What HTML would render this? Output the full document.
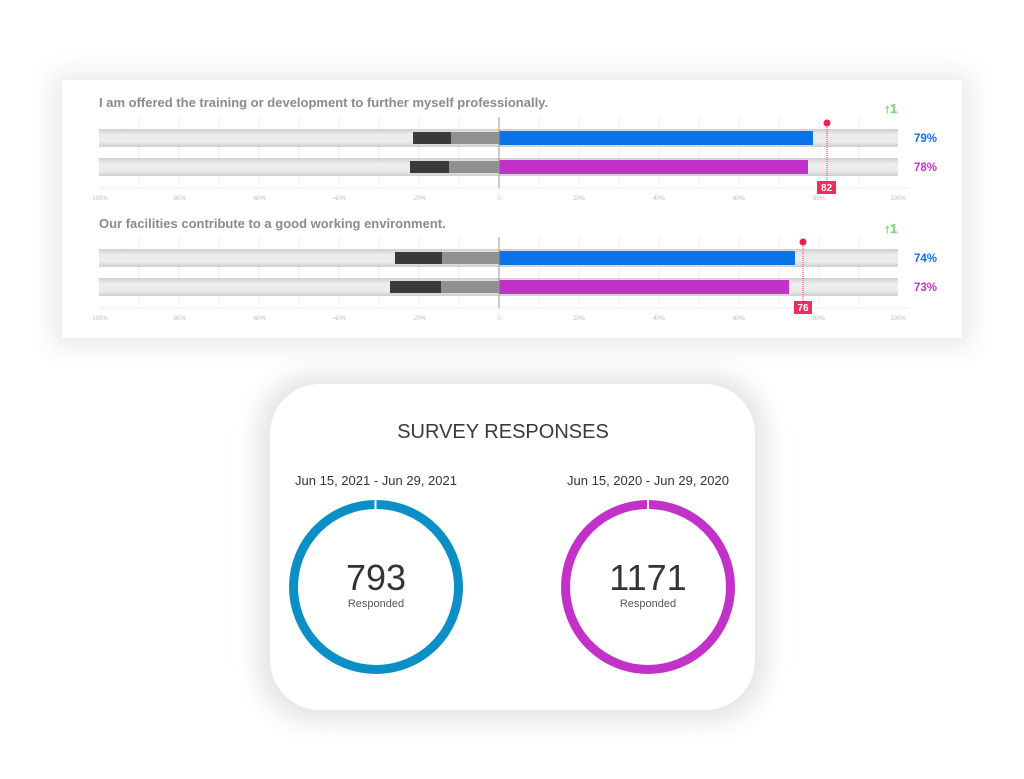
<!DOCTYPE html>
<html><head><meta charset="utf-8"><style>
html,body{margin:0;padding:0;background:#fff;}
svg{display:block;font-family:"Liberation Sans",sans-serif;}
</style></head><body>
<svg width="1024" height="779" viewBox="0 0 1024 779" xmlns="http://www.w3.org/2000/svg">
<defs>
<filter id="sh" x="-20%" y="-30%" width="140%" height="160%"><feGaussianBlur stdDeviation="12"/></filter>
<linearGradient id="tr" x1="0" y1="0" x2="0" y2="1">
<stop offset="0" stop-color="#cfcfcf"/><stop offset="0.3" stop-color="#ececec"/><stop offset="0.7" stop-color="#ececec"/><stop offset="1" stop-color="#cfcfcf"/></linearGradient>
</defs>
<rect x="52" y="72" width="920" height="276" fill="#ebebeb" filter="url(#sh)"/>
<rect x="62" y="80" width="900" height="258" fill="#fff"/>
<text x="99" y="107" font-size="13" fill="#8a8a90" font-weight="bold">I am offered the training or development to further myself professionally.</text>
<text x="884" y="113" font-size="12.5" fill="#7ddc7d" font-weight="bold" stroke="#7ddc7d" stroke-width="0.5">↑1</text>
<text x="99" y="228" font-size="13" fill="#8a8a90" font-weight="bold">Our facilities contribute to a good working environment.</text>
<text x="884" y="233" font-size="12.5" fill="#7ddc7d" font-weight="bold" stroke="#7ddc7d" stroke-width="0.5">↑1</text>

<g stroke="#ddd" stroke-width="1" stroke-dasharray="1,1">
<line x1="139" y1="117" x2="139" y2="188"/><line x1="179" y1="117" x2="179" y2="188"/><line x1="219" y1="117" x2="219" y2="188"/><line x1="259" y1="117" x2="259" y2="188"/><line x1="299" y1="117" x2="299" y2="188"/><line x1="339" y1="117" x2="339" y2="188"/><line x1="379" y1="117" x2="379" y2="188"/><line x1="419" y1="117" x2="419" y2="188"/><line x1="459" y1="117" x2="459" y2="188"/><line x1="539" y1="117" x2="539" y2="188"/><line x1="579" y1="117" x2="579" y2="188"/><line x1="619" y1="117" x2="619" y2="188"/><line x1="659" y1="117" x2="659" y2="188"/><line x1="699" y1="117" x2="699" y2="188"/><line x1="739" y1="117" x2="739" y2="188"/><line x1="779" y1="117" x2="779" y2="188"/><line x1="819" y1="117" x2="819" y2="188"/><line x1="859" y1="117" x2="859" y2="188"/>
<line x1="99" y1="188" x2="908" y2="188"/>
</g>
<rect x="99" y="129" width="799" height="18" fill="url(#tr)"/>
<rect x="99" y="158" width="799" height="18" fill="url(#tr)"/>
<rect x="413" y="132" width="38" height="12" fill="#3a3a3a"/><rect x="451" y="132" width="48" height="12" fill="#909090"/>
<rect x="499" y="131" width="314" height="14" fill="#0a74e6"/>
<rect x="410" y="161" width="39" height="12" fill="#3a3a3a"/><rect x="449" y="161" width="50" height="12" fill="#909090"/>
<rect x="499" y="160" width="309" height="14" fill="#c332c8"/>
<line x1="499" y1="117" x2="499" y2="188" stroke="#999"/>
<line x1="827" y1="123" x2="827" y2="182" stroke="#e0336a" stroke-dasharray="1,1"/>
<circle cx="827" cy="123" r="3.5" fill="#e8214e"/>
<rect x="817" y="181" width="19" height="13" fill="#ec2e5c"/>
<text x="826.5" y="191" font-size="10" fill="#fff" font-weight="bold" text-anchor="middle">82</text>
<text x="914" y="142" font-size="11.5" fill="#0a74e6" font-weight="bold">79%</text>
<text x="914" y="171" font-size="11.5" fill="#c332c8" font-weight="bold">78%</text>
<g font-size="6" fill="#bbb" text-anchor="middle">
<text x="99" y="200">-100%</text><text x="179" y="200">-80%</text><text x="259" y="200">-60%</text><text x="339" y="200">-40%</text><text x="419" y="200">-20%</text><text x="499" y="200">0</text><text x="579" y="200">20%</text><text x="659" y="200">40%</text><text x="739" y="200">60%</text><text x="819" y="200">80%</text><text x="898" y="200">100%</text>
</g>

<g stroke="#ddd" stroke-width="1" stroke-dasharray="1,1">
<line x1="139" y1="237" x2="139" y2="308"/><line x1="179" y1="237" x2="179" y2="308"/><line x1="219" y1="237" x2="219" y2="308"/><line x1="259" y1="237" x2="259" y2="308"/><line x1="299" y1="237" x2="299" y2="308"/><line x1="339" y1="237" x2="339" y2="308"/><line x1="379" y1="237" x2="379" y2="308"/><line x1="419" y1="237" x2="419" y2="308"/><line x1="459" y1="237" x2="459" y2="308"/><line x1="539" y1="237" x2="539" y2="308"/><line x1="579" y1="237" x2="579" y2="308"/><line x1="619" y1="237" x2="619" y2="308"/><line x1="659" y1="237" x2="659" y2="308"/><line x1="699" y1="237" x2="699" y2="308"/><line x1="739" y1="237" x2="739" y2="308"/><line x1="779" y1="237" x2="779" y2="308"/><line x1="819" y1="237" x2="819" y2="308"/><line x1="859" y1="237" x2="859" y2="308"/>
<line x1="99" y1="308" x2="908" y2="308"/>
</g>
<rect x="99" y="249" width="799" height="18" fill="url(#tr)"/>
<rect x="99" y="278" width="799" height="18" fill="url(#tr)"/>
<rect x="395" y="252" width="47" height="12" fill="#3a3a3a"/><rect x="442" y="252" width="57" height="12" fill="#909090"/>
<rect x="499" y="251" width="296" height="14" fill="#0a74e6"/>
<rect x="390" y="281" width="51" height="12" fill="#3a3a3a"/><rect x="441" y="281" width="58" height="12" fill="#909090"/>
<rect x="499" y="280" width="290" height="14" fill="#c332c8"/>
<line x1="499" y1="237" x2="499" y2="308" stroke="#999"/>
<line x1="803" y1="242" x2="803" y2="302" stroke="#e0336a" stroke-dasharray="1,1"/>
<circle cx="803" cy="242" r="3.5" fill="#e8214e"/>
<rect x="794" y="301" width="18" height="13" fill="#ec2e5c"/>
<text x="803" y="311" font-size="10" fill="#fff" font-weight="bold" text-anchor="middle">76</text>
<text x="914" y="262" font-size="11.5" fill="#0a74e6" font-weight="bold">74%</text>
<text x="914" y="291" font-size="11.5" fill="#c332c8" font-weight="bold">73%</text>
<g font-size="6" fill="#bbb" text-anchor="middle">
<text x="99" y="320">-100%</text><text x="179" y="320">-80%</text><text x="259" y="320">-60%</text><text x="339" y="320">-40%</text><text x="419" y="320">-20%</text><text x="499" y="320">0</text><text x="579" y="320">20%</text><text x="659" y="320">40%</text><text x="739" y="320">60%</text><text x="819" y="320">80%</text><text x="898" y="320">100%</text>
</g>

<rect x="258" y="374" width="508" height="348" rx="58" fill="#e4e4e4" filter="url(#sh)"/>
<rect x="270" y="384" width="485" height="326" rx="50" fill="#fff"/>
<text x="503" y="438" font-size="20" fill="#3a3a3a" text-anchor="middle">SURVEY RESPONSES</text>
<text x="376" y="485" font-size="13" fill="#333" text-anchor="middle">Jun 15, 2021 - Jun 29, 2021</text>
<text x="648" y="485" font-size="13" fill="#333" text-anchor="middle">Jun 15, 2020 - Jun 29, 2020</text>
<circle cx="376" cy="587" r="82.5" fill="none" stroke="#0b8fc6" stroke-width="9"/>
<rect x="374.5" y="498" width="2" height="12" fill="#fff"/>
<circle cx="648" cy="587" r="82.5" fill="none" stroke="#c332c8" stroke-width="9"/>
<rect x="647" y="498" width="2" height="12" fill="#fff"/>
<text x="376" y="590" font-size="36" fill="#333" text-anchor="middle">793</text>
<text x="376" y="607" font-size="11" fill="#555" text-anchor="middle">Responded</text>
<text x="648" y="590" font-size="36" fill="#333" text-anchor="middle">1171</text>
<text x="648" y="607" font-size="11" fill="#555" text-anchor="middle">Responded</text>
</svg>
</body></html>
